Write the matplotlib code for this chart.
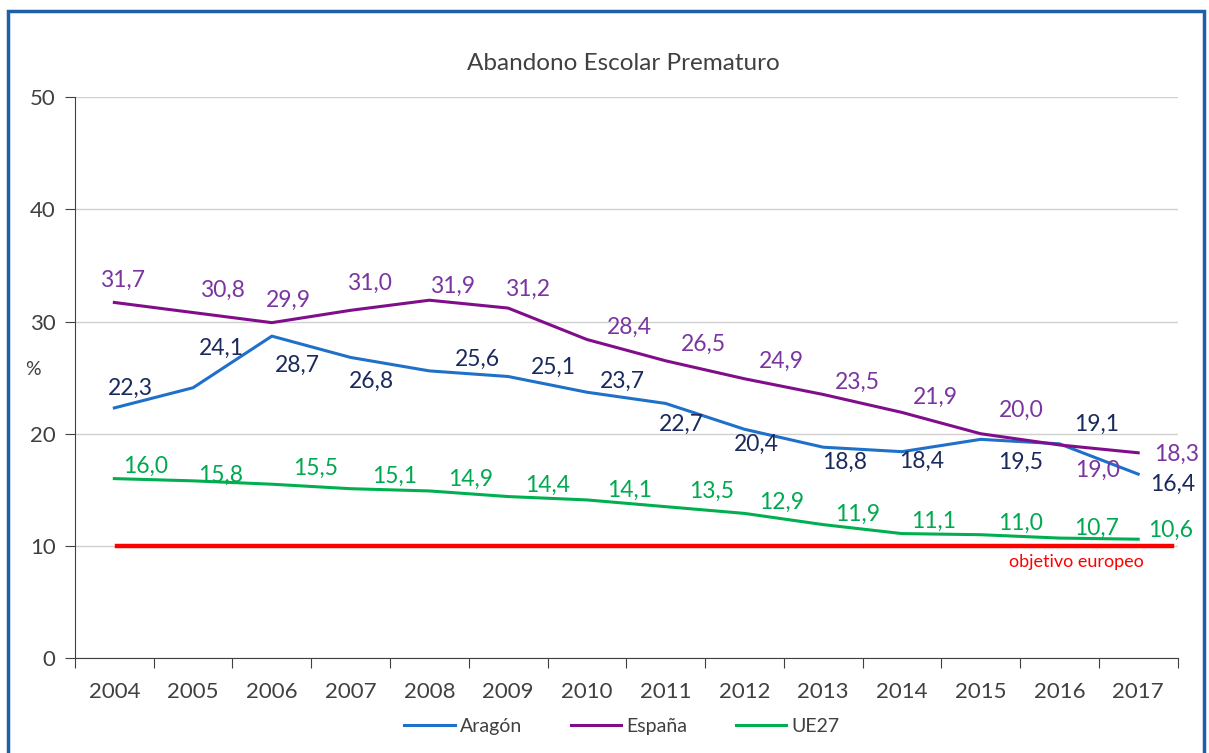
import matplotlib.pyplot as plt
from matplotlib.patches import Rectangle

# Datos
anios = ["2004", "2005", "2006", "2007", "2008", "2009", "2010",
         "2011", "2012", "2013", "2014", "2015", "2016", "2017"]
aragon = [22.3, 24.1, 28.7, 26.8, 25.6, 25.1, 23.7, 22.7, 20.4, 18.8, 18.4, 19.5, 19.1, 16.4]
espana = [31.7, 30.8, 29.9, 31.0, 31.9, 31.2, 28.4, 26.5, 24.9, 23.5, 21.9, 20.0, 19.0, 18.3]
ue27 = [16.0, 15.8, 15.5, 15.1, 14.9, 14.4, 14.1, 13.5, 12.9, 11.9, 11.1, 11.0, 10.7, 10.6]
objetivo = 10

# Desplazamientos (pixeles) de las etiquetas, colocadas a mano como en el original
desp_espana = [(8, -22), (29, -22), (17, -22), (19, -27), (23, -14), (19, -19), (42, -12),
               (38, -16), (37, -17), (34, -12), (33, -15), (41, -23), (38, 25), (38, 2)]
desp_aragon = [(16, -20), (28, -39), (26, 29), (21, 24), (48, -12), (45, -9), (35, -11),
               (16, 21), (12, 15), (21, 15), (20, 10), (40, 23), (37, -19), (34, 10)]
desp_ue27 = [(31, -12), (28, -6), (44, -16), (44, -12), (41, -12), (39, -11), (43, -10),
             (46, -15), (37, -11), (34, -10), (32, -12), (40, -11), (37, -10), (32, -9)]

plt.rcParams['font.family'] = ['Lato', 'DejaVu Sans']

fig = plt.figure(figsize=(12.09, 7.53), dpi=100)
ax = fig.add_axes([0.062, 0.126, 0.912, 0.745])

x = list(range(len(anios)))

# Linea objetivo europeo
ax.plot([x[0] + 0.04, x[-1] + 0.43], [objetivo, objetivo], color="#ff0000", linewidth=3.2, zorder=2)
ax.text(x[-1] - 0.78, objetivo - 1.4, "objetivo europeo", color="#ff0000", fontsize=13,
        ha="center", va="center")

series = [
    ("Aragón", aragon, "#1f70c8", "#1b2a5c", desp_aragon),
    ("España", espana, "#800e8a", "#7a35a0", desp_espana),
    ("UE27", ue27, "#00b050", "#00a84f", desp_ue27),
]

for nombre, valores, color, color_txt, desp in series:
    ax.plot(x, valores, color=color, linewidth=2.2, label=nombre, zorder=3)
    for i, v in enumerate(valores):
        etiqueta = ("%.1f" % v).replace(".", ",")
        ax.annotate(etiqueta, (x[i], v), xytext=(desp[i][0], -desp[i][1]),
                    textcoords="offset pixels", ha="center", va="center",
                    color=color_txt, fontsize=16.5)

# Ejes
ax.set_xlim(-0.5, len(anios) - 0.5)
ax.set_ylim(0, 50)
ax.set_yticks([0, 10, 20, 30, 40, 50])
ax.set_xticks([i - 0.5 for i in range(len(anios) + 1)])
ax.set_xticklabels([])
ax.set_xticks(x, minor=True)
ax.set_xticklabels(anios, minor=True)
ax.tick_params(axis="x", which="major", length=7, direction="out", color="#404040")
ax.tick_params(axis="x", which="minor", length=0, pad=17, labelsize=16, labelcolor="#404040")
ax.tick_params(axis="y", length=7, direction="out", color="#404040", labelsize=16,
               labelcolor="#404040", pad=7)
ax.grid(True, axis="y", color="#d0d0d0", linewidth=1)
ax.set_axisbelow(True)
for lado in ["top", "right"]:
    ax.spines[lado].set_visible(False)
ax.spines["left"].set_color("#404040")
ax.spines["bottom"].set_color("#404040")

ax.set_ylabel("%", rotation=0, fontsize=14, color="#404040")
ax.yaxis.set_label_coords(-0.038, 0.50)

fig.text(0.516, 0.916, "Abandono Escolar Prematuro", ha="center", va="center",
         fontsize=17.5, color="#404040")

ax.legend(loc="upper center", bbox_to_anchor=(0.496, -0.075), ncol=3, frameon=False,
          fontsize=14, labelcolor="#404040", handlelength=2.6, handletextpad=0.26,
          columnspacing=2.5)

# Marco azul del grafico
fig.patches.append(Rectangle((8 / 1209, -0.02), 1196 / 1209, 1.02 - 11 / 753,
                             transform=fig.transFigure, fill=False,
                             edgecolor="#1f5fa8", linewidth=2.5))

fig.savefig("out.png", dpi=100)
